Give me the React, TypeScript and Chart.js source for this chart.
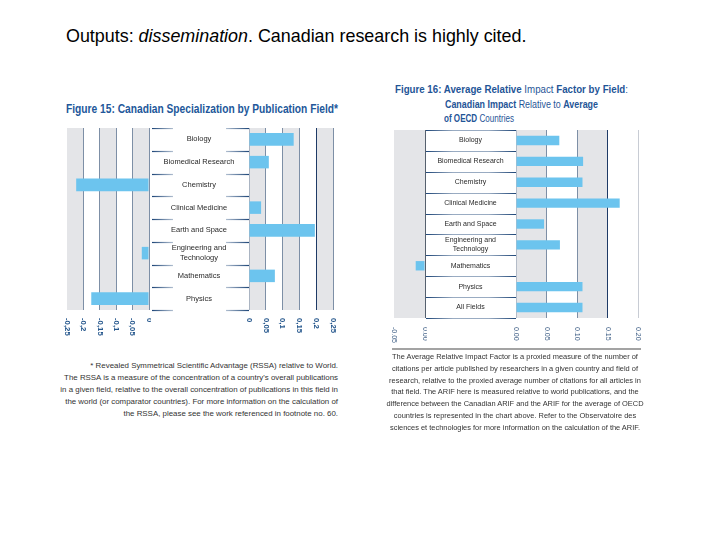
import React, { useEffect, useLayoutEffect, useRef } from "react";
import { Chart, registerables } from "chart.js";
Chart.register(...registerables);

// ---------- data ----------
const fig15Categories: (string | string[])[] = [
  "Biology",
  "Biomedical Research",
  "Chemistry",
  "Clinical Medicine",
  "Earth and Space",
  ["Engineering and", "Technology"],
  "Mathematics",
  "Physics",
];
const fig15Values = [0.133, 0.059, -0.222, 0.036, 0.196, -0.022, 0.077, -0.176];
const fig15NegTicks = ["-0,25", "-0,2", "-0,15", "-0,1", "-0,05", "0"];
const fig15PosTicks = ["0", "0,05", "0,1", "0,15", "0,2", "0,25"];

const fig16Categories: (string | string[])[] = [
  "Biology",
  "Biomedical Research",
  "Chemistry",
  "Clinical Medicine",
  "Earth and Space",
  ["Engineering and", "Technology"],
  "Mathematics",
  "Physics",
  "All Fields",
];
const fig16Values = [0.071, 0.11, 0.109, 0.17, 0.046, 0.072, -0.015, 0.109, 0.109];
const fig16NegTicks = ["-0.05", "0.00"];
const fig16PosTicks = ["0.00", "0.05", "0.10", "0.15", "0.20"];

// ---------- styles ----------
const STEEL = "#7d8fa6";
const NAVY = "#1e3a66";
const CLEAR = "rgba(0,0,0,0)";
const near = (a: number, b: number) => Math.abs(a - b) < 1e-6;

type Style = {
  bar: string;
  band: string;
  barPct: number;
  step: number;
  gridColor: (v: number, side: "neg" | "pos") => string;
  tickFont: string;
  tickColor: string;
  tickGap: number;
  labelFont: string;
  labelColor: string;
  lineH: number;
  sep: "ends" | "full";
};

const style15: Style = {
  bar: "#6cc4ee",
  band: "#e4e5e8",
  barPct: 0.55,
  step: 0.05,
  gridColor: (v, side) =>
    near(v, -0.25) ? CLEAR : near(v, 0.2) ? NAVY : near(v, 0) && side === "pos" ? "#aab4c2" : STEEL,
  tickFont: "bold 7.8px 'Liberation Sans', Arial, sans-serif",
  tickColor: "#24568c",
  tickGap: 8,
  labelFont: "7.5px 'Liberation Sans', Arial, sans-serif",
  labelColor: "#2a2a2a",
  lineH: 10,
  sep: "ends",
};

const style16: Style = {
  bar: "#6cc4ee",
  band: "#e4e5e8",
  barPct: 0.45,
  step: 0.05,
  gridColor: (v, side) =>
    near(v, -0.05)
      ? CLEAR
      : near(v, 0.15)
      ? NAVY
      : near(v, 0.2)
      ? "#c8ccd4"
      : near(v, 0)
      ? side === "neg"
        ? "#55606e"
        : "#b4bcc8"
      : STEEL,
  tickFont: "7px 'Liberation Sans', Arial, sans-serif",
  tickColor: "#3f5f86",
  tickGap: 9,
  labelFont: "7px 'Liberation Sans', Arial, sans-serif",
  labelColor: "#2a2a2a",
  lineH: 9.3,
  sep: "full",
};

type PanelProps = {
  left: number;
  top: number;
  width: number;
  height: number;
  padLeft: number;
  padRight: number;
  padBottom: number;
  min: number;
  max: number;
  side: "neg" | "pos";
  values: number[];
  categories: (string | string[])[];
  tickLabels: string[];
  labelWidth: number;
  s: Style;
};

function Panel(p: PanelProps) {
  const ref = useRef<HTMLCanvasElement>(null);
  useEffect(() => {
    const canvas = ref.current!;
    const s = p.s;
    const data = p.values.map((v) => (p.side === "neg" ? (v < 0 ? v : null) : v > 0 ? v : null));
    const decor = {
      id: "decor",
      beforeDraw(chart: any) {
        const { ctx, chartArea: a } = chart;
        const x = chart.scales.x;
        const t = x.ticks;
        ctx.save();
        ctx.fillStyle = s.band;
        for (let i = 0; i < t.length - 1; i++) {
          const v0 = t[i].value;
          const v1 = t[i + 1].value;
          const k = Math.round(Math.min(Math.abs(v0), Math.abs(v1)) / s.step);
          if (k % 2 === 0) {
            const p0 = x.getPixelForValue(v0);
            const p1 = x.getPixelForValue(v1);
            ctx.fillRect(Math.min(p0, p1), a.top, Math.abs(p1 - p0), a.bottom - a.top);
          }
        }
        ctx.restore();
      },
      afterDraw(chart: any) {
        const { ctx, chartArea: a } = chart;
        const x = chart.scales.x;
        ctx.save();
        ctx.font = s.tickFont;
        ctx.fillStyle = s.tickColor;
        ctx.textAlign = "left";
        ctx.textBaseline = "middle";
        x.ticks.forEach((t: any) => {
          const px = x.getPixelForValue(t.value);
          ctx.save();
          ctx.translate(px, a.bottom + s.tickGap);
          ctx.rotate(Math.PI / 2);
          ctx.fillText(String(t.label), 0, 0);
          ctx.restore();
        });
        ctx.restore();

        if (p.labelWidth > 0) {
          const y = chart.scales.y;
          const R = a.left;
          const L = a.left - p.labelWidth;
          const cx = (L + R) / 2;
          ctx.save();
          for (let i = 0; i <= p.categories.length; i++) {
            const by = Math.round(y.getPixelForValue(i - 0.5)) + 0.5;
            ctx.lineWidth = 1.2;
            if (s.sep === "ends") {
              const g1 = ctx.createLinearGradient(L + 3, 0, L + 24, 0);
              g1.addColorStop(0, "rgba(30,70,120,1)");
              g1.addColorStop(1, "rgba(30,70,120,0.35)");
              ctx.strokeStyle = g1;
              ctx.beginPath();
              ctx.moveTo(L + 3, by);
              ctx.lineTo(L + 24, by);
              ctx.stroke();
              const g2 = ctx.createLinearGradient(R - 23, 0, R, 0);
              g2.addColorStop(0, "rgba(30,70,120,0.35)");
              g2.addColorStop(1, "rgba(30,70,120,1)");
              ctx.strokeStyle = g2;
              ctx.beginPath();
              ctx.moveTo(R - 23, by);
              ctx.lineTo(R, by);
              ctx.stroke();
            } else {
              const g = ctx.createLinearGradient(L + 1, 0, R, 0);
              g.addColorStop(0, "rgba(30,70,120,1)");
              g.addColorStop(0.3, "rgba(30,70,120,0.45)");
              g.addColorStop(0.7, "rgba(30,70,120,0.45)");
              g.addColorStop(1, "rgba(30,70,120,1)");
              ctx.strokeStyle = g;
              ctx.beginPath();
              ctx.moveTo(L + 1, by);
              ctx.lineTo(R, by);
              ctx.stroke();
            }
          }
          ctx.font = s.labelFont;
          ctx.fillStyle = s.labelColor;
          ctx.textAlign = "center";
          ctx.textBaseline = "middle";
          p.categories.forEach((c, i) => {
            const cy = y.getPixelForValue(i);
            const lines = Array.isArray(c) ? c : [c];
            lines.forEach((ln, j) => {
              ctx.fillText(ln, cx, cy + (j - (lines.length - 1) / 2) * s.lineH);
            });
          });
          ctx.restore();
        }
      },
    };
    const chart = new Chart(canvas, {
      type: "bar",
      data: {
        labels: p.categories.map((c) => (Array.isArray(c) ? c.join(" ") : c)),
        datasets: [
          {
            data,
            backgroundColor: s.bar,
            borderWidth: 0,
            barPercentage: s.barPct,
            categoryPercentage: 1,
          },
        ],
      },
      options: {
        indexAxis: "y",
        responsive: false,
        animation: false,
        devicePixelRatio: 1,
        layout: { padding: { left: p.padLeft, right: p.padRight, top: 0, bottom: p.padBottom } },
        plugins: { legend: { display: false }, tooltip: { enabled: false } },
        scales: {
          x: {
            type: "linear",
            min: p.min,
            max: p.max,
            ticks: {
              stepSize: s.step,
              display: false,
              callback: (_v: any, i: number) => p.tickLabels[i] ?? "",
            },
            grid: {
              color: (ctx: any) => s.gridColor(ctx.tick ? ctx.tick.value : 0, p.side),
              lineWidth: 1,
              drawTicks: false,
            },
            border: { display: false },
          },
          y: { display: false },
        },
      } as any,
      plugins: [decor],
    });
    return () => chart.destroy();
  }, []);
  return (
    <canvas
      ref={ref}
      width={p.width}
      height={p.height}
      style={{ position: "absolute", left: p.left, top: p.top, width: p.width, height: p.height }}
    />
  );
}

// text squeezed horizontally to a target width (condensed heading look)
function FitText(props: { left: number; top: number; width: number; style: React.CSSProperties; children: any }) {
  const ref = useRef<HTMLSpanElement>(null);
  useLayoutEffect(() => {
    const el = ref.current!;
    el.style.transform = "none";
    const w = el.getBoundingClientRect().width;
    if (w > 0) el.style.transform = `scaleX(${props.width / w})`;
  }, []);
  return (
    <span
      ref={ref}
      style={{
        position: "absolute",
        left: props.left,
        top: props.top,
        whiteSpace: "nowrap",
        display: "inline-block",
        transformOrigin: "0 0",
        ...props.style,
      }}
    >
      {props.children}
    </span>
  );
}

const sans = "'Liberation Sans', Arial, sans-serif";
const head15: React.CSSProperties = { fontFamily: sans, fontWeight: 700, fontSize: 12.5, color: "#22579a", lineHeight: "13px" };
const head16: React.CSSProperties = { fontFamily: sans, fontSize: 10.5, color: "#1f5597", lineHeight: "12px" };

export default function App() {
  return (
    <div
      style={{
        position: "absolute",
        left: 0,
        top: 0,
        width: 720,
        height: 540,
        background: "#ffffff",
        overflow: "hidden",
        fontFamily: sans,
      }}
    >
      <div style={{ position: "absolute", left: 66, top: 26, fontSize: 17.9, color: "#000", whiteSpace: "nowrap" }}>
        Outputs: <i>dissemination</i>. Canadian research is highly cited.
      </div>

      {/* Figure 15 */}
      <FitText left={66} top={103} width={272} style={head15}>
        Figure 15: Canadian Specialization by Publication Field*
      </FitText>
      <Panel
        left={61}
        top={128}
        width={90}
        height={212}
        padLeft={6}
        padRight={2}
        padBottom={30}
        min={-0.25}
        max={0}
        side="neg"
        values={fig15Values}
        categories={fig15Categories}
        tickLabels={fig15NegTicks}
        labelWidth={0}
        s={style15}
      />
      <Panel
        left={149}
        top={128}
        width={190}
        height={212}
        padLeft={100}
        padRight={6}
        padBottom={30}
        min={0}
        max={0.25}
        side="pos"
        values={fig15Values}
        categories={fig15Categories}
        tickLabels={fig15PosTicks}
        labelWidth={100}
        s={style15}
      />
      <div
        style={{
          position: "absolute",
          right: 720 - 338,
          top: 360,
          fontSize: 7.9,
          lineHeight: "12px",
          color: "#333",
          textAlign: "right",
          whiteSpace: "nowrap",
        }}
      >
        * Revealed Symmetrical Scientific Advantage (RSSA) relative to World.
        <br />
        The RSSA is a measure of the concentration of a country's overall publications
        <br />
        in a given field, relative to the overall concentration of publications in this field in
        <br />
        the world (or comparator countries). For more information on the calculation of
        <br />
        the RSSA, please see the work referenced in footnote no. 60.
      </div>

      {/* Figure 16 */}
      <FitText left={395} top={83} width={233} style={head16}>
        <b>Figure 16: Average Relative</b> Impact <b>Factor by Field</b>:
      </FitText>
      <FitText left={445} top={98} width={153} style={head16}>
        <b>Canadian Impact</b> Relative to <b>Average</b>
      </FitText>
      <FitText left={444} top={112} width={70} style={head16}>
        <b>of OECD</b> Countries
      </FitText>
      <Panel
        left={388}
        top={130}
        width={39}
        height={218}
        padLeft={6}
        padRight={2}
        padBottom={30}
        min={-0.05}
        max={0}
        side="neg"
        values={fig16Values}
        categories={fig16Categories}
        tickLabels={fig16NegTicks}
        labelWidth={0}
        s={style16}
      />
      <Panel
        left={425}
        top={130}
        width={219}
        height={218}
        padLeft={91}
        padRight={6}
        padBottom={30}
        min={0}
        max={0.2}
        side="pos"
        values={fig16Values}
        categories={fig16Categories}
        tickLabels={fig16PosTicks}
        labelWidth={91}
        s={style16}
      />
      <div style={{ position: "absolute", left: 392, top: 348, width: 249, height: 1.5, background: "#a3a3a3" }} />
      <div
        style={{
          position: "absolute",
          left: 380,
          top: 351,
          width: 270,
          fontSize: 7.45,
          lineHeight: "11.8px",
          color: "#333",
          textAlign: "center",
          whiteSpace: "nowrap",
        }}
      >
        The Average Relative Impact Factor is a proxied measure of the number of
        <br />
        citations per article published by researchers in a given country and field of
        <br />
        research, relative to the proxied average number of citations for all articles in
        <br />
        that field. The ARIF here is measured relative to world publications, and the
        <br />
        difference between the Canadian ARIF and the ARIF for the average of OECD
        <br />
        countries is represented in the chart above. Refer to the Observatoire des
        <br />
        sciences et technologies for more information on the calculation of the ARIF.
      </div>
    </div>
  );
}
